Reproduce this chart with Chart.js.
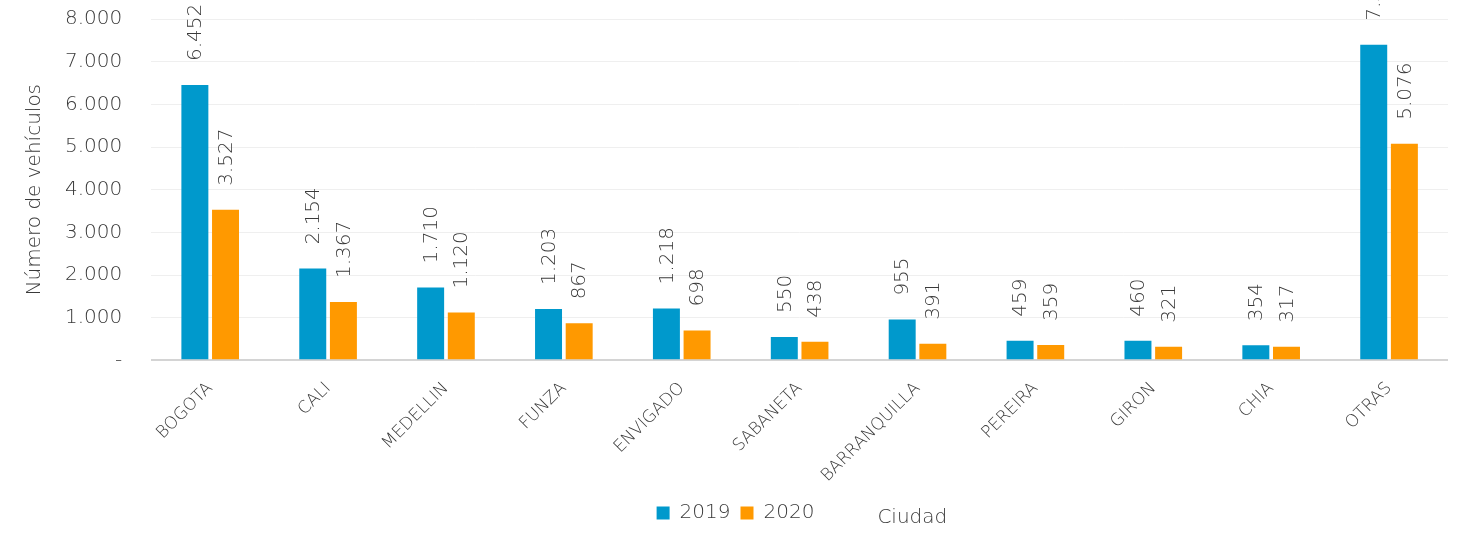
<!DOCTYPE html>
<html>
<head>
<meta charset="utf-8">
<script src="https://cdn.jsdelivr.net/npm/chart.js@4"></script>
<style>
  html, body { margin: 0; padding: 0; background: #fff; }
  #wrap { width: 1460px; height: 533px; }
</style>
</head>
<body>
<div id="wrap"><canvas id="vehiculos"></canvas></div>
<script>
var ciudades = ['BOGOTA', 'CALI', 'MEDELLIN', 'FUNZA', 'ENVIGADO', 'SABANETA', 'BARRANQUILLA', 'PEREIRA', 'GIRON', 'CHIA', 'OTRAS'];
var valores_2019 = [6452, 2154, 1710, 1203, 1218, 550, 955, 459, 460, 354, 7395];
var valores_2020 = [3527, 1367, 1120, 867, 698, 438, 391, 359, 321, 317, 5076];
var ticks_y = [0, 1000, 2000, 3000, 4000, 5000, 6000, 7000, 8000];

var fuente = '"DejaVu Sans", sans-serif';
var gris = '#3a3a3a';

function miles(v) {
    var s = String(Math.round(v));
    return s.replace(/\B(?=(\d{3})+(?!\d))/g, '.');
}

// etiquetas verticales encima de cada barra
var etiquetas = {
    id: 'etiquetas',
    afterDatasetsDraw: function (chart) {
        var ctx = chart.ctx;
        ctx.save();
        ctx.font = '200 20px ' + fuente;
        ctx.fillStyle = gris;
        ctx.textAlign = 'left';
        ctx.textBaseline = 'middle';
        chart.data.datasets.forEach(function (ds, i) {
            var meta = chart.getDatasetMeta(i);
            meta.data.forEach(function (bar, j) {
                ctx.save();
                ctx.translate(bar.x, bar.y - 24);
                ctx.rotate(-Math.PI / 2);
                ctx.fillText(miles(ds.data[j]), 0, 1);
                ctx.restore();
            });
        });
        ctx.restore();
    }
};

// titulo del eje x al lado de la leyenda
var titulo_x = {
    id: 'titulo_x',
    afterDraw: function (chart) {
        var cajas = chart.legend.legendHitBoxes;
        var ult = cajas[cajas.length - 1];
        var ctx = chart.ctx;
        ctx.save();
        ctx.font = '200 20px ' + fuente;
        ctx.fillStyle = gris;
        ctx.textAlign = 'left';
        ctx.textBaseline = 'middle';
        ctx.fillText('Ciudad', ult.left + ult.width + 63, ult.top + ult.height / 2 + 5);
        ctx.restore();
    }
};

var chart_ciudades = new Chart(document.getElementById('vehiculos').getContext('2d'), {
    type: 'bar',
    data: {
        labels: ciudades,
        datasets: [{
            label: '2019',
            data: valores_2019,
            backgroundColor: '#0099CC',
            categoryPercentage: 0.52,
            barPercentage: 0.88
        }, {
            label: '2020',
            data: valores_2020,
            backgroundColor: '#FF9900',
            categoryPercentage: 0.52,
            barPercentage: 0.88
        }]
    },
    options: {
        responsive: true,
        maintainAspectRatio: false,
        animation: false,
        layout: { padding: { top: 19, right: 12, bottom: 0, left: 23 } },
        plugins: {
            legend: {
                position: 'bottom',
                labels: {
                    boxWidth: 13,
                    boxHeight: 13,
                    padding: 10,
                    color: gris,
                    font: { family: fuente, size: 20, weight: 200 }
                }
            },
            tooltip: { enabled: false }
        },
        scales: {
            x: {
                grid: { display: false },
                border: { display: false },
                ticks: {
                    color: gris,
                    font: { family: fuente, size: 17, weight: 200 },
                    minRotation: 45,
                    maxRotation: 45,
                    padding: 10
                },
                afterFit: function (scale) {
                    scale.height -= 3;
                }
            },
            y: {
                min: 0,
                max: 8000,
                afterBuildTicks: function (scale) {
                    scale.ticks = ticks_y.map(function (v) { return { value: v }; });
                },
                border: { display: false },
                grid: {
                    drawTicks: true,
                    tickLength: 27,
                    tickColor: 'rgba(0,0,0,0)',
                    color: function (c) { return c.tick && c.tick.value === 0 ? '#d4d4d4' : '#efefef'; },
                    lineWidth: function (c) { return c.tick && c.tick.value === 0 ? 2 : 1; }
                },
                ticks: {
                    color: gris,
                    padding: 2,
                    font: { family: fuente, size: 20, weight: 200 },
                    callback: function (v) { return v === 0 ? '-' : miles(v); }
                },
                title: {
                    display: true,
                    text: 'Número de vehículos',
                    color: gris,
                    padding: { top: 0, bottom: 16 },
                    font: { family: fuente, size: 20, weight: 200 }
                }
            }
        }
    },
    plugins: [etiquetas, titulo_x]
});
</script>
</body>
</html>
